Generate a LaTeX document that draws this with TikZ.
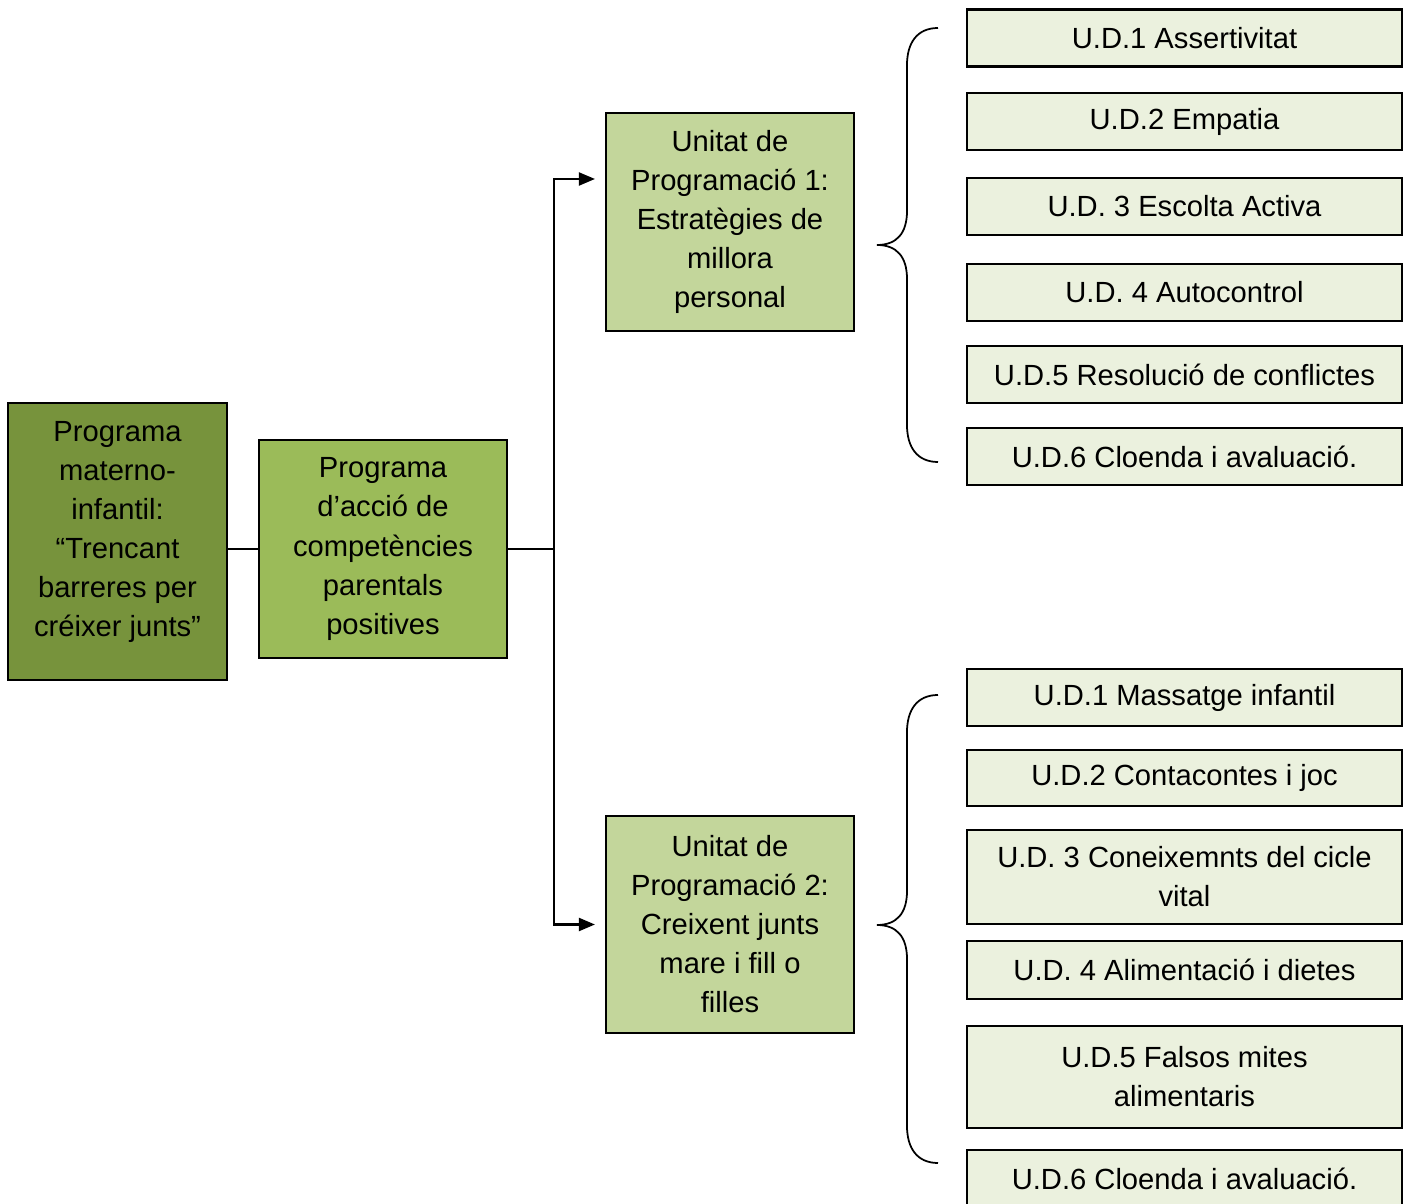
\documentclass[tikz,border=0pt]{standalone}
\usepackage{fontspec}
\setmainfont{Liberation Sans}
\usepackage{tikz}
\usetikzlibrary{calc,arrows.meta}

\definecolor{progdark}{HTML}{77933C}
\definecolor{progmid}{HTML}{9BBB59}
\definecolor{proglight}{HTML}{C3D69B}
\definecolor{udfill}{HTML}{EBF1DE}

\tikzset{
  base/.style={draw=black,line width=0.6pt,align=center,inner sep=0pt,
    font=\fontsize{8.3}{11.1}\selectfont},
  progbox/.style={base,minimum width=2.48cm,minimum height=2.18cm},
  udbox/.style={base,fill=udfill,minimum width=4.35cm,minimum height=0.57cm},
  arr/.style={line width=0.6pt,-{Triangle[length=0.16cm,width=0.13cm]}},
  brace/.style={line width=0.5pt}
}

\begin{document}
\begin{tikzpicture}[scale=1]
\useasboundingbox (0,0) rectangle (14.11,12.03);
\clip (0,0) rectangle (14.11,12.03);
% main programme boxes
\node[progbox,fill=progdark,minimum width=2.19cm,minimum height=2.77cm] (materno) at (1.175,6.615) {};
\node[base,draw=none] (maternotext) at ([yshift=0.095cm]materno.center) {Programa\\materno-\\infantil:\\“Trencant\\barreres per\\créixer junts”};
\node[progbox,fill=progmid] (parental) at (3.83,6.54) {Programa\\d’acció de\\competències\\parentals\\positives};
\node[progbox,fill=proglight] (up1) at (7.30,9.81) {Unitat de\\Programació 1:\\Estratègies de\\millora\\personal};
\node[progbox,fill=proglight,minimum height=2.17cm] (up2) at (7.30,2.785) {Unitat de\\Programació 2:\\Creixent junts\\mare i fill o\\filles};
% connectors
\coordinate (junc) at (5.54,6.54);
\coordinate (in1) at ($(up1.west)+(-0.1,0.43)$);
\coordinate (in2) at ($(up2.west)+(-0.1,0)$);
\draw[line width=0.6pt] (materno.east |- parental.west) -- (parental.west);
\draw[line width=0.6pt] (parental.east) -- (junc);
\draw[arr] (junc) |- (in1);
\draw[arr] (junc) |- (in2);
% units of programme 1
\node[udbox] (ua1) at (11.845,11.65) {U.D.1 Assertivitat};
\node[udbox] (ua2) at (11.845,10.815) {U.D.2 Empatia};
\node[udbox] (ua3) at (11.845,9.965) {U.D. 3 Escolta Activa};
\node[udbox] (ua4) at (11.845,9.105) {U.D. 4 Autocontrol};
\node[udbox] (ua5) at (11.845,8.285) {U.D.5 Resolució de conflictes};
\node[udbox] (ua6) at (11.845,7.465) {U.D.6 Cloenda i avaluació.};
% units of programme 2
\node[udbox] (ub1) at (11.845,5.055) {U.D.1 Massatge infantil};
\node[udbox,minimum height=0.56cm] (ub2) at (11.845,4.25) {U.D.2 Contacontes i joc};
\node[udbox,minimum height=0.94cm] (ub3) at (11.845,3.26) {U.D. 3 Coneixemnts del cicle\\vital};
\node[udbox,minimum height=0.58cm] (ub4) at (11.845,2.33) {U.D. 4 Alimentació i dietes};
\node[udbox,minimum height=1.02cm] (ub5) at (11.845,1.26) {U.D.5 Falsos mites\\alimentaris};
\node[udbox] (ub6) at (11.845,0.245) {U.D.6 Cloenda i avaluació.};
% braces
\draw[brace] (9.38,11.75) .. controls (9.17,11.75) and (9.07,11.6) .. (9.07,11.38)
  -- (9.07,9.92) .. controls (9.07,9.70) and (8.97,9.58) .. (8.77,9.58)
  .. controls (8.97,9.58) and (9.07,9.46) .. (9.07,9.24)
  -- (9.07,7.78) .. controls (9.07,7.56) and (9.17,7.41) .. (9.38,7.41);
\draw[brace] (9.38,5.08) .. controls (9.17,5.08) and (9.07,4.93) .. (9.07,4.71)
  -- (9.07,3.12) .. controls (9.07,2.90) and (8.97,2.78) .. (8.77,2.78)
  .. controls (8.97,2.78) and (9.07,2.66) .. (9.07,2.44)
  -- (9.07,0.77) .. controls (9.07,0.55) and (9.17,0.40) .. (9.38,0.40);
\end{tikzpicture}
\end{document}
